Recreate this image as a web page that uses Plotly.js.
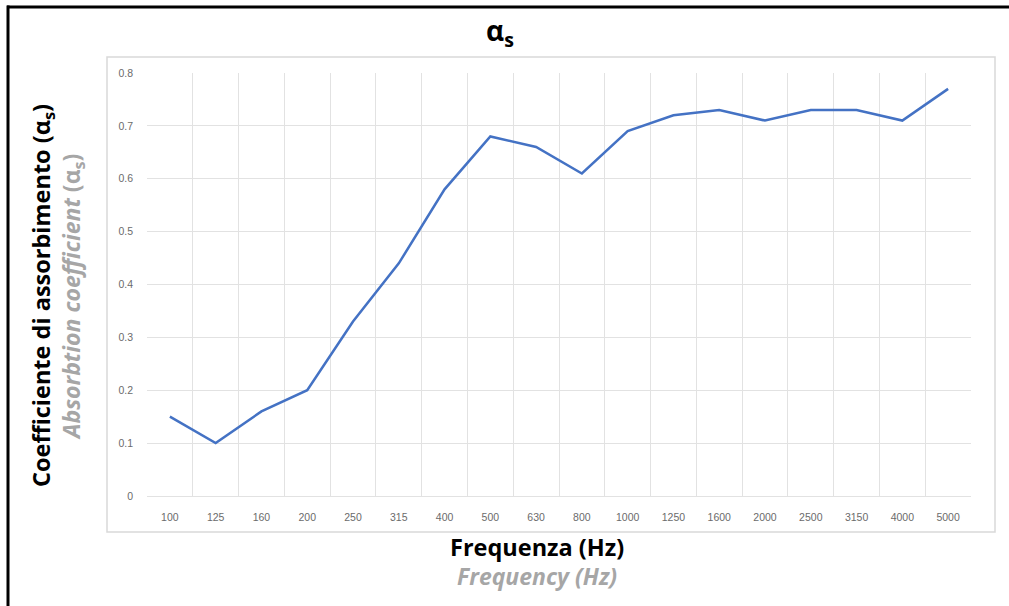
<!DOCTYPE html>
<html>
<head>
<meta charset="utf-8">
<script src="https://cdn.plot.ly/plotly-3.0.1.min.js"></script>
<style>
html,body{margin:0;padding:0;background:#fff;}
#chart{width:1009px;height:606px;}
</style>
</head>
<body>
<div id="chart"></div>
<script>
const frequencies = ["100","125","160","200","250","315","400","500","630","800","1000","1250","1600","2000","2500","3150","4000","5000"];
const absorption = [0.15,0.10,0.16,0.20,0.33,0.44,0.58,0.68,0.66,0.61,0.69,0.72,0.73,0.71,0.73,0.73,0.71,0.77];
const yTicks = [0,0.1,0.2,0.3,0.4,0.5,0.6,0.7,0.8];
const yTickText = ["0","0.1","0.2","0.3","0.4","0.5","0.6","0.7","0.8"];
const chartTitle = "α<sub>s</sub>";
const yTitleIt = "Coefficiente di assorbimento (α<sub>s</sub>)";
const yTitleEn = "<i>Absorbtion coefficient</i> (α<sub>s</sub>)";
const xTitleIt = "Frequenza (Hz)";
const xTitleEn = "<i>Frequency (Hz)</i>";

// plot area in pixels: x 147..971, y 73..496
const L = 147, R = 971, T = 73, B = 496;
const W = R - L, H = B - T;
const px = x => (x - L) / W;
const py = y => (B - y) / H;

const trace = {
  x: frequencies,
  y: absorption,
  type: 'scatter',
  mode: 'lines',
  line: {color: '#4472C4', width: 2.5},
  hoverinfo: 'x+y'
};

const layout = {
  width: 1009, height: 606,
  margin: {l: L, r: 1009 - R, t: T, b: 606 - B, pad: 0},
  paper_bgcolor: '#ffffff',
  plot_bgcolor: '#ffffff',
  showlegend: false,
  title: {
    text: chartTitle,
    font: {family: 'Open Sans, sans-serif', size: 28, color: '#000000', weight: 'bold'},
    x: 500 / 1009, xanchor: 'center', xref: 'container',
    y: 1 - 31 / 606, yanchor: 'middle', yref: 'container'
  },
  xaxis: {
    type: 'category',
    range: [-0.5, frequencies.length - 0.5],
    tickson: 'boundaries',
    showgrid: true, gridcolor: '#e2e2e2', gridwidth: 1,
    showline: false, zeroline: false,
    ticks: '',
    ticklabelstandoff: 13,
    tickfont: {family: 'Liberation Sans, Arial, sans-serif', size: 10.5, color: '#6b6b6b'},
    fixedrange: true
  },
  yaxis: {
    range: [0, 0.8],
    tickvals: yTicks,
    ticktext: yTickText,
    showgrid: true, gridcolor: '#e2e2e2', gridwidth: 1,
    zeroline: true, zerolinecolor: '#e2e2e2', zerolinewidth: 1,
    showline: false,
    ticks: '',
    ticklabelstandoff: 13,
    tickfont: {family: 'Liberation Sans, Arial, sans-serif', size: 10.5, color: '#6b6b6b'},
    fixedrange: true
  },
  shapes: [
    // light gray frame of the chart image
    {type: 'rect', xref: 'paper', yref: 'paper',
     x0: px(107), x1: px(995), y0: py(532), y1: py(57),
     line: {color: '#d9d9d9', width: 1.5}, layer: 'below'},
    // outer black border: top and left
    {type: 'line', xref: 'paper', yref: 'paper',
     x0: px(7), x1: px(1009), y0: py(7), y1: py(7),
     line: {color: '#000000', width: 3}},
    {type: 'line', xref: 'paper', yref: 'paper',
     x0: px(8), x1: px(8), y0: py(5.5), y1: py(606),
     line: {color: '#000000', width: 3}}
  ],
  annotations: [
    {text: yTitleIt, xref: 'paper', yref: 'paper', x: px(42), y: py(296),
     xanchor: 'center', yanchor: 'middle', textangle: -90, showarrow: false,
     font: {family: 'Open Sans, sans-serif', size: 23.5, color: '#000000', weight: 'bold'}},
    {text: yTitleEn, xref: 'paper', yref: 'paper', x: px(72), y: py(297),
     xanchor: 'center', yanchor: 'middle', textangle: -90, showarrow: false,
     font: {family: 'Open Sans, sans-serif', size: 23, color: '#a6a6a6', weight: 'bold'}},
    {text: xTitleIt, xref: 'paper', yref: 'paper', x: px(537), y: py(547),
     xanchor: 'center', yanchor: 'middle', showarrow: false,
     font: {family: 'Open Sans, sans-serif', size: 23.5, color: '#000000', weight: 'bold'}},
    {text: xTitleEn, xref: 'paper', yref: 'paper', x: px(537), y: py(576),
     xanchor: 'center', yanchor: 'middle', showarrow: false,
     font: {family: 'Open Sans, sans-serif', size: 23, color: '#a6a6a6', weight: 'bold'}}
  ]
};

Plotly.newPlot('chart', [trace], layout, {displayModeBar: false, staticPlot: true});
</script>
</body>
</html>
